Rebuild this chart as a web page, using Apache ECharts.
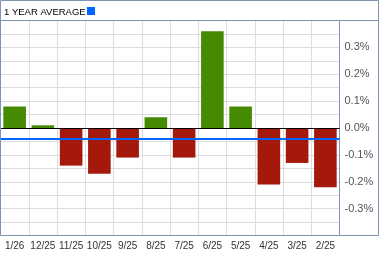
<!DOCTYPE html>
<html><head><meta charset="utf-8">
<script src="https://cdn.jsdelivr.net/npm/echarts@6/dist/echarts.min.js"></script>
<style>html,body{margin:0;padding:0;background:#fff}#c{width:379px;height:255px}</style>
</head><body><div id="c"></div>
<script>
var categories = ['1/26','12/25','11/25','10/25','9/25','8/25','7/25','6/25','5/25','4/25','3/25','2/25'];
var values = [0.08, 0.01, -0.14, -0.17, -0.11, 0.04, -0.11, 0.36, 0.08, -0.21, -0.13, -0.22];
var average = -0.04;
var titleText = '1 YEAR AVERAGE';
var GREEN = '#458a00', RED = '#a5190d', BORDER = '#7f94b1';
var chart = echarts.init(document.getElementById('c'), null, {renderer:'canvas'});
chart.setOption({
  animation:false,
  grid:{left:0.5, right:39.5, top:20.5, bottom:19.5, show:false},
  graphic:[
    {type:'rect', shape:{x:0.5,y:0.5,width:378,height:235}, style:{fill:null, stroke:BORDER, lineWidth:1}, z:100},
    {type:'line', shape:{x1:0,y1:20.5,x2:379,y2:20.5}, style:{stroke:BORDER, lineWidth:1}, z:100},
    {type:'text', left:4, top:7, style:{text:titleText, font:'9.5px "Liberation Sans", Arial, sans-serif', fill:'#000'}},
    {type:'rect', shape:{x:87,y:7,width:8,height:8}, style:{fill:'#0066ff'}}
  ],
  xAxis:{type:'category', data:categories, boundaryGap:true,
    axisLine:{show:false}, axisTick:{show:false},
    splitLine:{show:true, lineStyle:{color:'#dddddd', width:1}},
    axisLabel:{interval:0, margin:6, color:'#333', fontSize:10, fontFamily:'"Liberation Sans", Arial, sans-serif'}
  },
  yAxis:{type:'value', position:'right', min:-0.4, max:0.4, interval:0.05,
    axisLine:{show:true, lineStyle:{color:BORDER, width:1}}, axisTick:{show:false},
    splitLine:{show:true, lineStyle:{color:'#dddddd', width:1}},
    axisLabel:{margin:5, color:'#555', fontSize:11, fontFamily:'"Liberation Sans", Arial, sans-serif',
      formatter:function(v){ var r=Math.round(v*100); if(r%10!==0 || Math.abs(r)>=40) return ''; return (v).toFixed(1)+'%'; }}
  },
  series:[{type:'bar', data:values.map(function(v){return {value:v, itemStyle:{color: v>=0?GREEN:RED}};}),
    barCategoryGap:'20%',
    markLine:{symbol:'none', silent:true, label:{show:false},
      data:[{yAxis:0, lineStyle:{color:'#000', width:1, type:'solid'}},
            {yAxis:average, lineStyle:{color:'#0066ff', width:2, type:'solid'}}]}
  }]
});
</script></body></html>
